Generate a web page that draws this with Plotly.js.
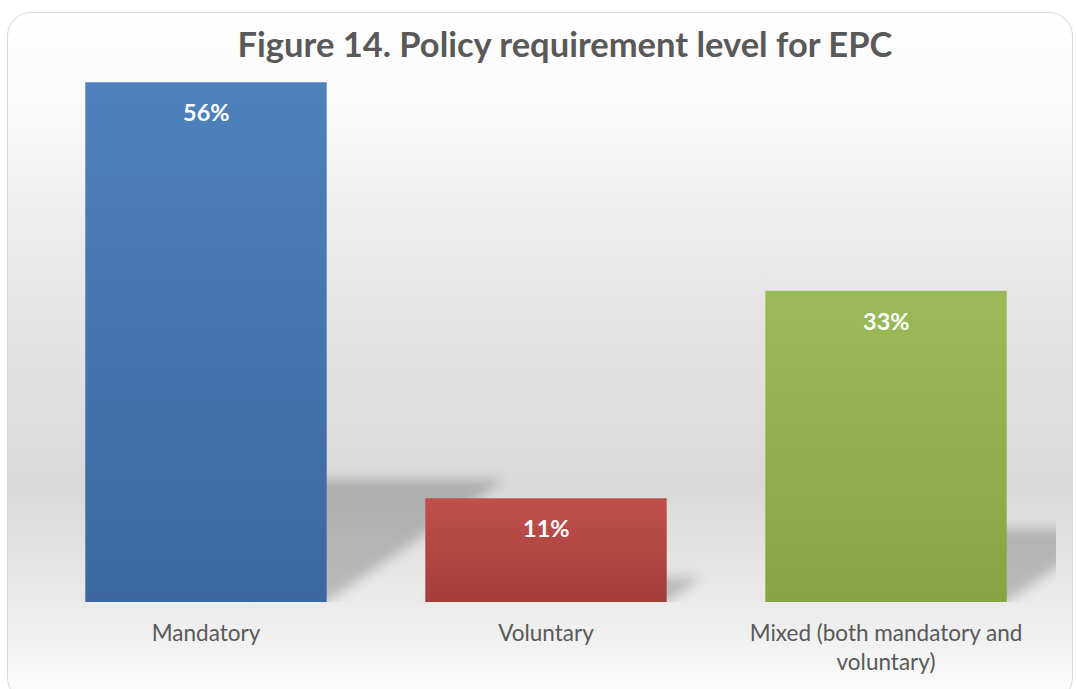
<!DOCTYPE html>
<html>
<head>
<meta charset="utf-8">
<script src="https://cdn.plot.ly/plotly-3.0.1.min.js"></script>
<style>
  html, body { margin: 0; padding: 0; background: #ffffff; }
  #frame {
    position: absolute; left: 7px; top: 12px; width: 1066px; height: 690px;
    border: 1.5px solid #d9d9d9; border-radius: 24px; box-sizing: border-box;
    background: linear-gradient(to bottom, #ffffff 0%, #fafafa 13%, #e6e6e6 41%, #d9d9d9 69%, #ececec 87%, #fdfdfd 100%);
  }
  #chart { position: absolute; left: 0; top: 0; width: 1076px; height: 689px; }
  .shapelayer path { filter: blur(6px); }
</style>
</head>
<body>
<div id="frame"></div>
<div id="chart"></div>
<script>
// ---- data ----
const categories = ["Mandatory", "Voluntary", "Mixed (both mandatory and voluntary)"];
const tickLabels = ["Mandatory", "Voluntary", "Mixed (both mandatory and<br>voluntary)"];
const shares = [55.6, 11.1, 33.3];
const valueLabels = ["56%", "11%", "33%"];

// ---- styles ----
const topColors = ["#4f81bd", "#c0504d", "#9bbb59"];
const bottomColors = ["#3b68a0", "#a43d3a", "#84a541"];
const textColor = "#595959";
const font = "Lato, 'Open Sans', sans-serif";
const barWidth = 0.71;

const xIdx = categories.map((_, i) => i);

// shadows behind bars, derived from the values
const pxPerY = 561 / 60, pxPerX = 1020 / 3;
const shadowShapes = shares.map((v, i) => {
  const hs = 0.235 * v;
  const dx = 1.45 * hs * pxPerY / pxPerX;
  const w = barWidth / 2;
  return {
    type: "path", xref: "x", yref: "y", layer: "below",
    path: `M ${i - w} 0 L ${i + w} 0 L ${i + w + dx} ${hs} L ${i - w + dx} ${hs} Z`,
    fillcolor: "rgba(0,0,0,0.2)", line: { width: 0 }
  };
});

const trace = {
  type: "bar",
  x: xIdx,
  y: shares,
  width: barWidth,
  marker: { color: topColors, line: { width: 0 } },
  hoverinfo: "skip",
  showlegend: false
};

const annotations = shares.map((v, i) => ({
  x: i, y: v, xref: "x", yref: "y",
  text: "<b>" + valueLabels[i] + "</b>",
  showarrow: false, yshift: -30,
  font: { family: font, size: 23.5, color: "#ffffff" }
}));

const layout = {
  width: 1076, height: 689,
  margin: { l: 36, r: 20, t: 41, b: 87 },
  paper_bgcolor: "rgba(0,0,0,0)",
  plot_bgcolor: "rgba(0,0,0,0)",
  title: {
    text: "<b>Figure 14. Policy requirement level for EPC</b>",
    font: { family: font, size: 34.5, color: textColor },
    x: 558 / 1076, xref: "paper", xanchor: "center",
    y: 1 - 45 / 689, yref: "container", yanchor: "middle"
  },
  xaxis: {
    range: [-0.5, 2.5],
    tickvals: xIdx, ticktext: tickLabels,
    showgrid: false, zeroline: false, showline: false, ticks: "",
    tickfont: { family: font, size: 22.5, color: textColor },
    ticklabelstandoff: 15,
    fixedrange: true
  },
  yaxis: {
    range: [0, 60], visible: false, showgrid: false, zeroline: false, fixedrange: true
  },
  shapes: shadowShapes,
  annotations: annotations
};

const gd = document.getElementById("chart");
Plotly.newPlot(gd, [trace], layout, { displayModeBar: false, staticPlot: true }).then(() => {
  const svg = gd.querySelector("svg.main-svg");
  const NS = "http://www.w3.org/2000/svg";
  let defs = svg.querySelector("defs");
  if (!defs) { defs = document.createElementNS(NS, "defs"); svg.insertBefore(defs, svg.firstChild); }
  topColors.forEach((c, i) => {
    const g = document.createElementNS(NS, "linearGradient");
    g.setAttribute("id", "barGrad" + i);
    g.setAttribute("x1", "0"); g.setAttribute("y1", "0");
    g.setAttribute("x2", "0"); g.setAttribute("y2", "1");
    const s1 = document.createElementNS(NS, "stop");
    s1.setAttribute("offset", "0"); s1.setAttribute("stop-color", c);
    const s2 = document.createElementNS(NS, "stop");
    s2.setAttribute("offset", "1"); s2.setAttribute("stop-color", bottomColors[i]);
    g.appendChild(s1); g.appendChild(s2);
    defs.appendChild(g);
  });
  gd.querySelectorAll(".trace.bars .point path").forEach((p, i) => {
    p.style.setProperty("fill", "url(#barGrad" + i + ")");
  });
  gd.querySelectorAll(".shapelayer path").forEach(p => {
    p.style.setProperty("filter", "blur(6px)");
  });
});
</script>
</body>
</html>
